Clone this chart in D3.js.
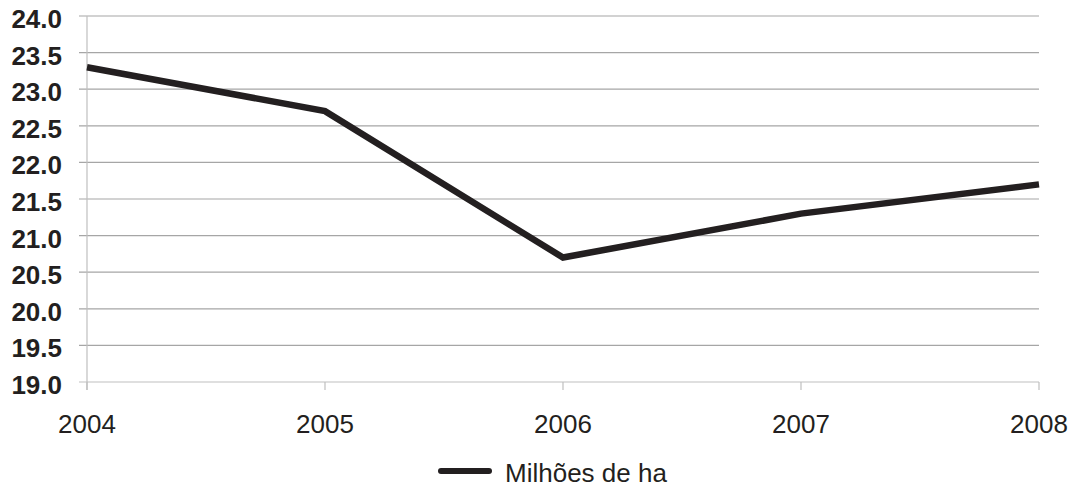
<!DOCTYPE html>
<html><head><meta charset="utf-8">
<script src="https://cdn.jsdelivr.net/npm/d3@7"></script>
<style>body{margin:0;background:#fff}svg{display:block}</style>
</head><body>
<svg id="c" width="1074" height="487"></svg>
<script>
const years = ["2004","2005","2006","2007","2008"];
const values = [23.3, 22.7, 20.7, 21.3, 21.7];
const yTicks = [19.0,19.5,20.0,20.5,21.0,21.5,22.0,22.5,23.0,23.5,24.0];
const seriesName = "Milhões de ha";

const svg = d3.select("#c");
const L = 87, R = 1039, T = 16, B = 382;
const x = d3.scalePoint().domain(years).range([L, R]);
const y = d3.scaleLinear().domain([19, 24]).range([B, T]);
const font = "Arial, 'Liberation Sans', sans-serif";

// gridlines
svg.append("g").selectAll("line").data(yTicks.slice(1)).join("line")
  .attr("x1", 79).attr("x2", R).attr("y1", d => y(d)).attr("y2", d => y(d))
  .attr("stroke", "#a6a6a6").attr("stroke-width", 1.2);

// y axis line
svg.append("line").attr("x1", L).attr("x2", L).attr("y1", T).attr("y2", B + 8)
  .attr("stroke", "#bfbfbf").attr("stroke-width", 1.2);
// x axis line
svg.append("line").attr("x1", 79).attr("x2", R).attr("y1", B).attr("y2", B)
  .attr("stroke", "#bfbfbf").attr("stroke-width", 1.2);
// x ticks
svg.append("g").selectAll("line").data(years).join("line")
  .attr("x1", d => x(d)).attr("x2", d => x(d)).attr("y1", B).attr("y2", B + 8)
  .attr("stroke", "#bfbfbf").attr("stroke-width", 1.2);

// y labels
svg.append("g").selectAll("text").data(yTicks).join("text")
  .attr("x", 62).attr("y", d => y(d) + 12).attr("text-anchor", "end")
  .attr("font-family", font).attr("font-weight", "bold").attr("font-size", 26)
  .attr("fill", "#231f20").text(d => d.toFixed(1));

// x labels
svg.append("g").selectAll("text").data(years).join("text")
  .attr("x", d => x(d)).attr("y", 433).attr("text-anchor", "middle")
  .attr("font-family", font).attr("font-size", 26)
  .attr("fill", "#231f20").text(d => d);

// line
const line = d3.line().x((d, i) => x(years[i])).y(d => y(d));
svg.append("path").datum(values).attr("d", line)
  .attr("fill", "none").attr("stroke", "#231f20").attr("stroke-width", 6.5)
  .attr("stroke-linejoin", "miter");

// legend
svg.append("line").attr("x1", 441).attr("x2", 489).attr("y1", 471).attr("y2", 471)
  .attr("stroke", "#231f20").attr("stroke-width", 6).attr("stroke-linecap", "round");
svg.append("text").attr("x", 505).attr("y", 482)
  .attr("font-family", font).attr("font-size", 26).attr("fill", "#231f20").text(seriesName);
</script>
</body></html>
